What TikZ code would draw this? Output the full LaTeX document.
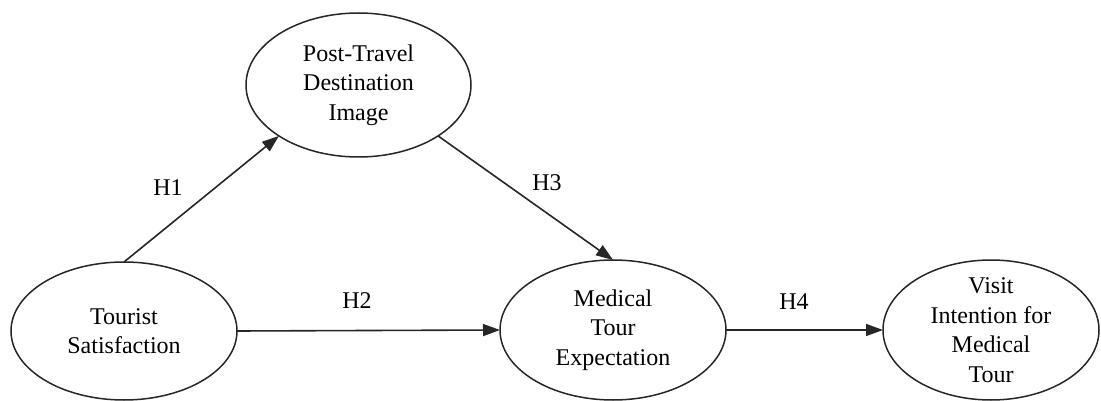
\documentclass[tikz,border=0pt]{standalone}
\usepackage{fontspec}
\setmainfont{Liberation Serif}
\usetikzlibrary{shapes.geometric,arrows.meta}
\begin{document}
\begin{tikzpicture}[x=1pt,y=-1pt,
  construct/.style={ellipse,draw=black!85,line width=1.5pt,inner sep=-10pt,outer sep=0pt,
    align=center,font=\fontsize{24}{29.5}\selectfont},
  path/.style={draw=black!85,line width=1.6pt,-{Triangle[length=17pt,width=12pt]}},
  hyp/.style={font=\fontsize{24}{29}\selectfont,inner sep=0pt}]
\useasboundingbox (0,0) rectangle (1101,401);
\node[construct,minimum width=226pt,minimum height=138pt] (ts) at (124,331) {Tourist\\Satisfaction};
\node[construct,minimum width=225pt,minimum height=144pt] (pt) at (358.5,85) {Post-Travel\\Destination\\Image};
\node[construct,minimum width=226pt,minimum height=140pt] (me) at (613,330) {Medical\\Tour\\Expectation};
\node[construct,minimum width=216pt,minimum height=140pt] (vi) at (991,330) {Visit\\Intention for\\Medical\\Tour};
\draw[path] (ts.north) -- (pt.south west);
\draw[path] (pt.south east) -- (me.north);
\draw[path] (ts.east) -- (me.west);
\draw[path] (me.east) -- (vi.west);
\node[hyp] (h1) at (168,188) {H1};
\node[hyp] (h3) at (547,183) {H3};
\node[hyp] (h2) at (357,301) {H2};
\node[hyp] (h4) at (794,302) {H4};
\end{tikzpicture}
\end{document}
